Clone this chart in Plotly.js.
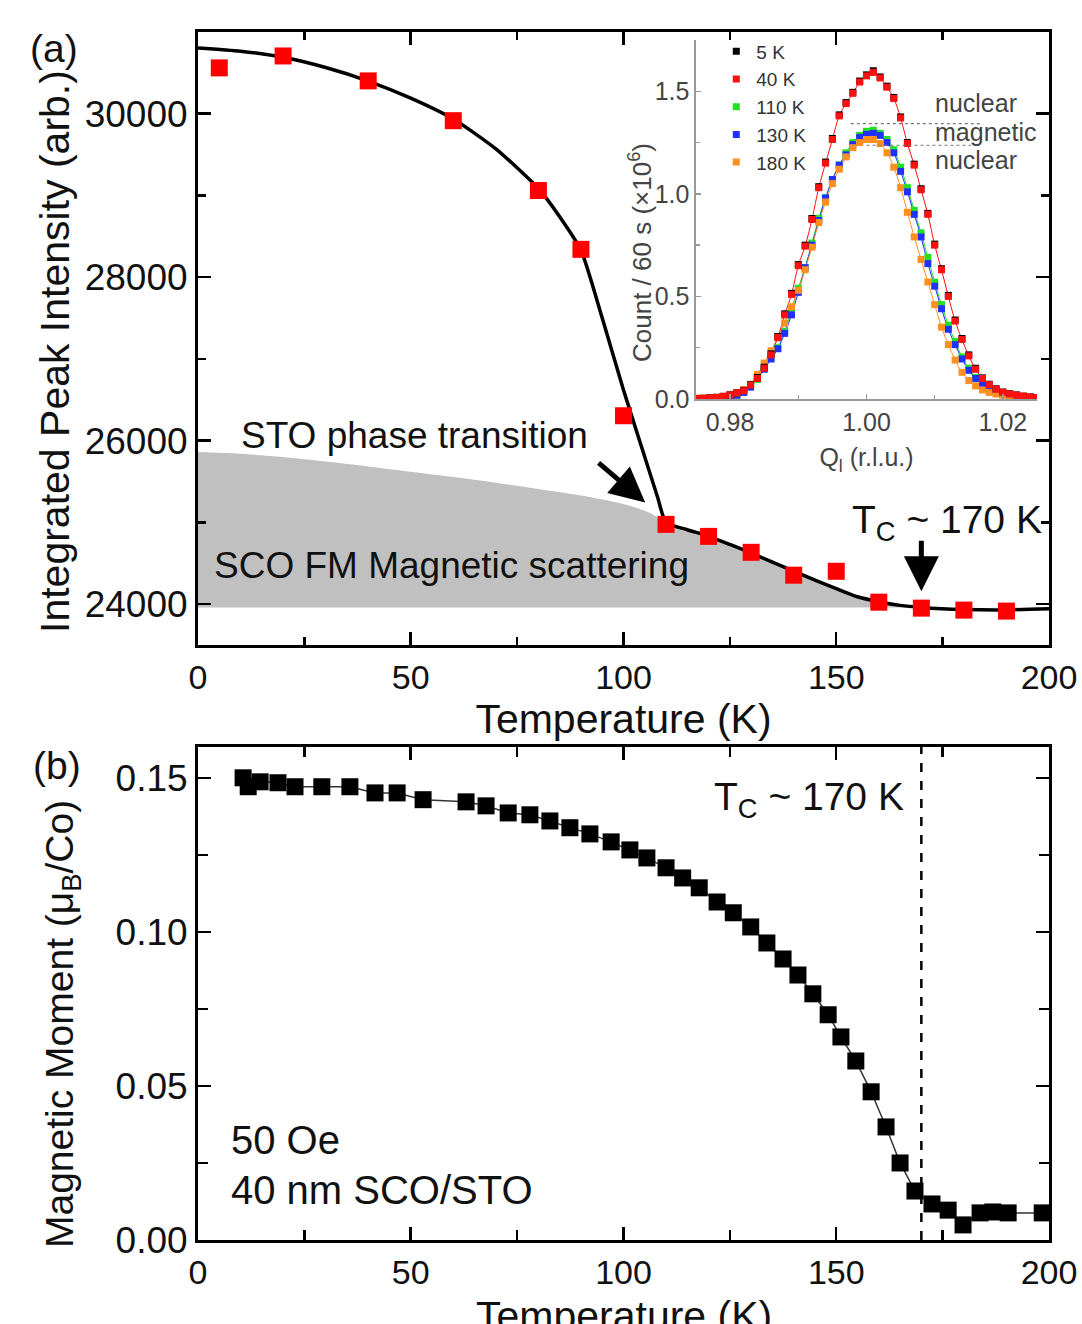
<!DOCTYPE html>
<html>
<head>
<meta charset="utf-8">
<script src="https://cdn.plot.ly/plotly-3.0.1.min.js"></script>
<style>
  html, body { margin: 0; padding: 0; background: #fff; }
  #chart { width: 1082px; height: 1324px; }
</style>
</head>
<body>
<div id="chart"></div>
<script>
// ---------- Panel (a): integrated peak intensity ----------
const aTemp = [5, 20, 40, 60, 80, 90, 100, 110, 120, 130, 140, 150, 160, 170, 180, 190];
const aIntensity = [30561, 30707, 30402, 29915, 29061, 28341, 26305, 24976, 24829, 24634, 24354, 24402, 24024, 23951, 23927, 23915];
const aTickVals = [24000, 26000, 28000, 30000];
const aTickText = ['24000', '26000', '28000', '30000'];

const fitTemp = [0, 10, 20, 30, 40, 50, 60, 70, 80, 85, 90, 95, 100, 105, 108, 110, 115, 120, 125, 130, 135, 140, 145, 150, 155, 160, 165, 170, 180, 190, 200];
const fitIntensity = [30805, 30765, 30690, 30565, 30400, 30190, 29935, 29570, 29085, 28740, 28330, 27500, 26620, 25800, 25310, 25000, 24910, 24830, 24730, 24625, 24515, 24405, 24295, 24190, 24090, 24030, 23985, 23960, 23935, 23930, 23945];

// shaded "SCO FM magnetic scattering" region (upper edge) and its base level
const grayTemp = [0, 10, 20, 30, 40, 50, 60, 70, 80, 90, 100, 106, 110, 115, 120, 125, 130, 135, 140, 145, 150, 155, 160, 165, 170];
const grayTop = [25860, 25840, 25800, 25745, 25685, 25620, 25555, 25485, 25410, 25330, 25225, 25120, 25000, 24910, 24830, 24730, 24625, 24515, 24405, 24295, 24190, 24090, 24030, 23985, 23960];
const grayBase = grayTemp.map(() => 23960);

// ---------- Panel (b): magnetic moment ----------
const bTemp = [10.6, 11.8, 14.6, 18.8, 22.8, 29.1, 35.7, 41.6, 46.8, 52.9, 63.0, 67.7, 72.9, 78.0, 82.7, 87.4, 92.1, 97.1, 101.5, 105.5, 110.0, 113.9, 117.8, 122.0, 125.8, 129.9, 133.7, 137.5, 141.0, 144.5, 148.1, 151.1, 154.6, 158.2, 161.7, 165.0, 168.5, 172.5, 176.3, 179.8, 183.8, 186.8, 190.4, 198.4];
const bMoment = [0.1500, 0.1471, 0.1487, 0.1484, 0.1471, 0.1471, 0.1471, 0.1451, 0.1451, 0.1429, 0.1422, 0.1409, 0.1386, 0.1380, 0.1360, 0.1338, 0.1318, 0.1292, 0.1266, 0.1240, 0.1208, 0.1175, 0.1143, 0.1097, 0.1062, 0.1016, 0.0964, 0.0912, 0.0860, 0.0799, 0.0731, 0.0659, 0.0581, 0.0481, 0.0367, 0.0250, 0.0159, 0.0117, 0.0097, 0.0049, 0.0088, 0.0091, 0.0088, 0.0088];
const tcLine = 170;

// ---------- Inset: Q scans ----------
const qScan = [0.975, 0.976, 0.977, 0.978, 0.979, 0.980, 0.981, 0.982, 0.983, 0.984, 0.985, 0.986, 0.987, 0.988, 0.989, 0.990, 0.991, 0.992, 0.993, 0.994, 0.995, 0.996, 0.997, 0.998, 0.999, 1.000, 1.001, 1.002, 1.003, 1.004, 1.005, 1.006, 1.007, 1.008, 1.009, 1.010, 1.011, 1.012, 1.013, 1.014, 1.015, 1.016, 1.017, 1.018, 1.019, 1.020, 1.021, 1.022, 1.023, 1.024, 1.025];
const c5K   = [0.002, 0.003, 0.005, 0.008, 0.013, 0.020, 0.030, 0.042, 0.070, 0.105, 0.155, 0.220, 0.305, 0.415, 0.515, 0.655, 0.750, 0.880, 1.035, 1.155, 1.270, 1.385, 1.445, 1.495, 1.550, 1.580, 1.600, 1.570, 1.525, 1.470, 1.375, 1.250, 1.145, 1.025, 0.905, 0.755, 0.635, 0.505, 0.385, 0.295, 0.215, 0.150, 0.103, 0.072, 0.050, 0.034, 0.026, 0.020, 0.014, 0.010, 0.007];
const c40K  = [0.002, 0.003, 0.005, 0.008, 0.013, 0.020, 0.030, 0.040, 0.068, 0.100, 0.150, 0.215, 0.300, 0.410, 0.510, 0.650, 0.745, 0.875, 1.030, 1.150, 1.265, 1.380, 1.440, 1.490, 1.545, 1.575, 1.592, 1.565, 1.520, 1.465, 1.370, 1.245, 1.140, 1.020, 0.900, 0.750, 0.630, 0.500, 0.380, 0.290, 0.210, 0.145, 0.100, 0.070, 0.048, 0.033, 0.025, 0.019, 0.014, 0.010, 0.007];
const c110K = [0.002, 0.003, 0.004, 0.006, 0.008, 0.012, 0.020, 0.035, 0.060, 0.095, 0.150, 0.200, 0.250, 0.330, 0.430, 0.540, 0.640, 0.760, 0.880, 0.980, 1.070, 1.140, 1.200, 1.250, 1.285, 1.305, 1.310, 1.295, 1.265, 1.215, 1.130, 1.030, 0.920, 0.810, 0.690, 0.570, 0.460, 0.360, 0.280, 0.205, 0.150, 0.105, 0.072, 0.050, 0.035, 0.024, 0.018, 0.014, 0.011, 0.008, 0.006];
const c130K = [0.002, 0.003, 0.004, 0.006, 0.008, 0.011, 0.018, 0.032, 0.058, 0.100, 0.145, 0.195, 0.245, 0.320, 0.410, 0.520, 0.640, 0.750, 0.870, 0.980, 1.070, 1.140, 1.190, 1.240, 1.275, 1.290, 1.295, 1.285, 1.250, 1.200, 1.110, 1.010, 0.900, 0.790, 0.660, 0.550, 0.440, 0.340, 0.265, 0.195, 0.140, 0.100, 0.068, 0.047, 0.033, 0.023, 0.017, 0.013, 0.010, 0.008, 0.006];
const c180K = [0.004, 0.005, 0.006, 0.008, 0.011, 0.020, 0.030, 0.046, 0.072, 0.120, 0.175, 0.235, 0.300, 0.370, 0.450, 0.530, 0.630, 0.740, 0.860, 0.960, 1.050, 1.120, 1.180, 1.225, 1.250, 1.265, 1.265, 1.245, 1.200, 1.130, 1.030, 0.910, 0.790, 0.680, 0.570, 0.460, 0.350, 0.265, 0.190, 0.130, 0.090, 0.064, 0.044, 0.032, 0.024, 0.018, 0.014, 0.011, 0.008, 0.006, 0.005];
const scanLabels = ['5 K', '40 K', '110 K', '130 K', '180 K'];
const scanColors = ['#000000', '#ff1010', '#22e022', '#2030ff', '#ff9020'];

// dotted guide lines in the inset (nuclear / magnetic split)
const guideUpper = {q0: 0.9977, q1: 1.0168, level: 1.342};
const guideLower = {q0: 1.0000, q1: 1.0153, level: 1.237};

const FONT = 'Liberation Sans, Arial, Helvetica, sans-serif';

const traces = [];

// gray area: invisible base, then upper edge filled down to it
traces.push({
  x: grayTemp, y: grayBase, xaxis: 'x', yaxis: 'y',
  mode: 'lines', line: {width: 0, color: 'rgba(0,0,0,0)'}, showlegend: false, hoverinfo: 'skip'
});
traces.push({
  x: grayTemp, y: grayTop, xaxis: 'x', yaxis: 'y',
  mode: 'lines', fill: 'tonexty', fillcolor: '#c0c0c0',
  line: {width: 0, color: '#c0c0c0', shape: 'spline', smoothing: 0.8},
  showlegend: false, hoverinfo: 'skip'
});
// fit line
traces.push({
  x: fitTemp, y: fitIntensity, xaxis: 'x', yaxis: 'y',
  mode: 'lines', line: {color: '#000', width: 3.5, shape: 'spline', smoothing: 0.6},
  showlegend: false
});
// red data
traces.push({
  x: aTemp, y: aIntensity, xaxis: 'x', yaxis: 'y',
  mode: 'markers', marker: {symbol: 'square', size: 17, color: '#ff0000'},
  showlegend: false
});

// panel (b)
traces.push({
  x: bTemp, y: bMoment, xaxis: 'x2', yaxis: 'y2',
  mode: 'lines+markers',
  line: {color: '#333', width: 1.5},
  marker: {symbol: 'square', size: 17, color: '#000'},
  showlegend: false
});

// inset fit lines
const scanData = [c5K, c40K, c110K, c130K, c180K];
[2, 3, 4, 1].forEach(i => {
  traces.push({
    x: qScan, y: scanData[i], xaxis: 'x3', yaxis: 'y3',
    mode: 'lines', line: {color: scanColors[i], width: 1, shape: 'spline'},
    showlegend: false, hoverinfo: 'skip'
  });
});
// inset points (draw order: 110, 130, 180, 5, 40)
[2, 3, 4, 0, 1].forEach(i => {
  traces.push({
    x: qScan, y: scanData[i], xaxis: 'x3', yaxis: 'y3',
    mode: 'markers', name: scanLabels[i], legendrank: i + 1,
    marker: {symbol: 'square', size: 7, color: scanColors[i]},
    showlegend: true
  });
});

function mainAxis(extra) {
  return Object.assign({
    showline: true, linecolor: '#000', linewidth: 3, mirror: 'ticks',
    showgrid: false, zeroline: false,
    ticks: 'inside', ticklen: 13, tickwidth: 2.5, tickcolor: '#000'
  }, extra);
}
const xTickFont = {family: FONT, size: 34, color: '#111'};
const yTickFont = {family: FONT, size: 37, color: '#111'};
const titleFont = {family: FONT, size: 41, color: '#111'};
const insetFont = {family: FONT, size: 25, color: '#444'};

const layout = {
  width: 1082, height: 1324,
  margin: {l: 0, r: 0, t: 0, b: 0},
  paper_bgcolor: '#fff', plot_bgcolor: 'rgba(0,0,0,0)',
  font: {family: FONT, color: '#111'},
  xaxis: mainAxis({
    domain: [0.18299, 0.96950], anchor: 'y', range: [0, 200],
    tickvals: [0, 50, 100, 150, 200], tickfont: xTickFont,
    minor: {tick0: 0, dtick: 25, ticks: 'inside', ticklen: 8, tickwidth: 2.5, tickcolor: '#000'},
    title: {text: 'Temperature (K)', font: titleFont, standoff: 2}
  }),
  yaxis: mainAxis({
    domain: [0.51284, 0.97583], anchor: 'x', range: [23500, 31000],
    tickvals: aTickVals, ticktext: aTickText, tickfont: yTickFont,
    minor: {tick0: 0, dtick: 1000, ticks: 'inside', ticklen: 8, tickwidth: 2.5, tickcolor: '#000'}
  }),
  xaxis2: mainAxis({
    domain: [0.18299, 0.96950], anchor: 'y2', range: [0, 200],
    tickvals: [0, 50, 100, 150, 200], tickfont: xTickFont,
    minor: {tick0: 0, dtick: 25, ticks: 'inside', ticklen: 10, tickwidth: 2.5, tickcolor: '#000'}
  }),
  yaxis2: mainAxis({
    domain: [0.06344, 0.43580], anchor: 'x2', range: [0, 0.16],
    tickvals: [0, 0.05, 0.10, 0.15], tickformat: '.2f', tickfont: yTickFont,
    minor: {tick0: 0, dtick: 0.025, ticks: 'inside', ticklen: 10, tickwidth: 2.5, tickcolor: '#000'}
  }),
  xaxis3: {
    domain: [0.64325, 0.95841], anchor: 'y3', range: [0.975, 1.025],
    tickvals: [0.98, 1.00, 1.02], tickformat: '.2f',
    showline: true, linecolor: '#999', linewidth: 1.5, mirror: false,
    showgrid: false, zeroline: false,
    ticks: 'inside', ticklen: 5, tickwidth: 1.5, tickcolor: '#999',
    minor: {tick0: 0, dtick: 0.01, ticks: 'inside', ticklen: 4, tickwidth: 1.5, tickcolor: '#999'},
    tickfont: insetFont,
    title: {text: 'Q<sub>l</sub> (r.l.u.)', font: insetFont, standoff: 14}
  },
  yaxis3: {
    domain: [0.69864, 0.96979], anchor: 'x3', range: [0, 1.75],
    tickvals: [0, 0.5, 1.0, 1.5], tickformat: '.1f',
    showline: true, linecolor: '#999', linewidth: 1.5, mirror: false,
    showgrid: false, zeroline: false,
    ticks: 'inside', ticklen: 5, tickwidth: 1.5, tickcolor: '#999',
    minor: {tick0: 0, dtick: 0.25, ticks: 'inside', ticklen: 4, tickwidth: 1.5, tickcolor: '#999'},
    tickfont: insetFont
  },
  showlegend: true,
  legend: {
    x: 0.662, y: 0.9755, xanchor: 'left', yanchor: 'top',
    bgcolor: 'rgba(0,0,0,0)', borderwidth: 0,
    font: {family: FONT, size: 19, color: '#333'},
    itemwidth: 30, tracegroupgap: 0, traceorder: 'normal'
  },
  shapes: [
    {type: 'line', xref: 'x2', yref: 'y2', x0: tcLine, x1: tcLine, y0: 0, y1: 0.16,
     line: {color: '#000', width: 2.5, dash: 'dash'}},
    {type: 'line', xref: 'x3', yref: 'y3', x0: guideUpper.q0, x1: guideUpper.q1, y0: guideUpper.level, y1: guideUpper.level,
     line: {color: '#777', width: 1.2, dash: 'dot'}},
    {type: 'line', xref: 'x3', yref: 'y3', x0: guideLower.q0, x1: guideLower.q1, y0: guideLower.level, y1: guideLower.level,
     line: {color: '#777', width: 1.2, dash: 'dot'}}
  ],
  annotations: [
    // axis titles placed as annotations
    {xref: 'paper', yref: 'paper', x: 55 / 1082, y: 1 - 352 / 1324, text: 'Integrated Peak Intensity (arb.)',
     textangle: -90, showarrow: false, font: {family: FONT, size: 41, color: '#111'}, xanchor: 'center', yanchor: 'middle'},
    {xref: 'paper', yref: 'paper', x: 62 / 1082, y: 1 - 1024 / 1324, text: 'Magnetic Moment (μ<sub>B</sub>/Co)',
     textangle: -90, showarrow: false, font: {family: FONT, size: 39, color: '#111'}, xanchor: 'center', yanchor: 'middle'},
    {xref: 'paper', yref: 'paper', x: 624 / 1082, y: 1 - 1316 / 1324, text: 'Temperature (K)',
     showarrow: false, font: titleFont, xanchor: 'center', yanchor: 'middle'},
    {xref: 'paper', yref: 'paper', x: 640 / 1082, y: 1 - 253 / 1324, text: 'Count / 60 s (×10<sup>6</sup>)',
     textangle: -90, showarrow: false, font: {family: FONT, size: 26, color: '#444'}, xanchor: 'center', yanchor: 'middle'},
    {xref: 'paper', yref: 'paper', x: 54 / 1082, y: 1 - 49 / 1324, text: '(a)', showarrow: false,
     font: {family: FONT, size: 39, color: '#111'}, xanchor: 'center', yanchor: 'middle'},
    {xref: 'paper', yref: 'paper', x: 57 / 1082, y: 1 - 765 / 1324, text: '(b)', showarrow: false,
     font: {family: FONT, size: 39, color: '#111'}, xanchor: 'center', yanchor: 'middle'},
    {xref: 'x', yref: 'y', x: 9.6, y: 26060, text: 'STO phase transition', showarrow: false,
     font: {family: FONT, size: 37, color: '#111'}, xanchor: 'left', yanchor: 'middle'},
    {xref: 'x', yref: 'y', x: 3.3, y: 24477, text: 'SCO FM Magnetic scattering', showarrow: false,
     font: {family: FONT, size: 37, color: '#111'}, xanchor: 'left', yanchor: 'middle'},
    {xref: 'x', yref: 'y', axref: 'x', ayref: 'y', x: 105.1, y: 25244, ax: 93.8, ay: 25744,
     text: '', showarrow: true, arrowhead: 2, arrowsize: 1.4, arrowwidth: 5, arrowcolor: '#000'},
    {xref: 'x', yref: 'y', x: 153.2, y: 25003, text: 'T<sub>C</sub> ~ 170 K', showarrow: false,
     font: {family: FONT, size: 39, color: '#111'}, xanchor: 'left', yanchor: 'middle'},
    {xref: 'x', yref: 'y', axref: 'x', ayref: 'y', x: 170, y: 24159, ax: 170, ay: 24793,
     text: '', showarrow: true, arrowhead: 2, arrowsize: 1.4, arrowwidth: 5, arrowcolor: '#000'},
    {xref: 'x2', yref: 'y2', x: 120.8, y: 0.1429, text: 'T<sub>C</sub> ~ 170 K', showarrow: false,
     font: {family: FONT, size: 39, color: '#111'}, xanchor: 'left', yanchor: 'middle'},
    {xref: 'x2', yref: 'y2', x: 7.3, y: 0.0325, text: '50 Oe', showarrow: false,
     font: {family: FONT, size: 40, color: '#111'}, xanchor: 'left', yanchor: 'middle'},
    {xref: 'x2', yref: 'y2', x: 7.3, y: 0.0162, text: '40 nm SCO/STO', showarrow: false,
     font: {family: FONT, size: 40, color: '#111'}, xanchor: 'left', yanchor: 'middle'},
    {xref: 'x3', yref: 'y3', x: 1.0098, y: 1.445, text: 'nuclear', showarrow: false,
     font: insetFont, xanchor: 'left', yanchor: 'middle'},
    {xref: 'x3', yref: 'y3', x: 1.0098, y: 1.300, text: 'magnetic', showarrow: false,
     font: insetFont, xanchor: 'left', yanchor: 'middle'},
    {xref: 'x3', yref: 'y3', x: 1.0098, y: 1.165, text: 'nuclear', showarrow: false,
     font: insetFont, xanchor: 'left', yanchor: 'middle'}
  ]
};

Plotly.newPlot('chart', traces, layout, {staticPlot: true, displayModeBar: false});
</script>
</body>
</html>
